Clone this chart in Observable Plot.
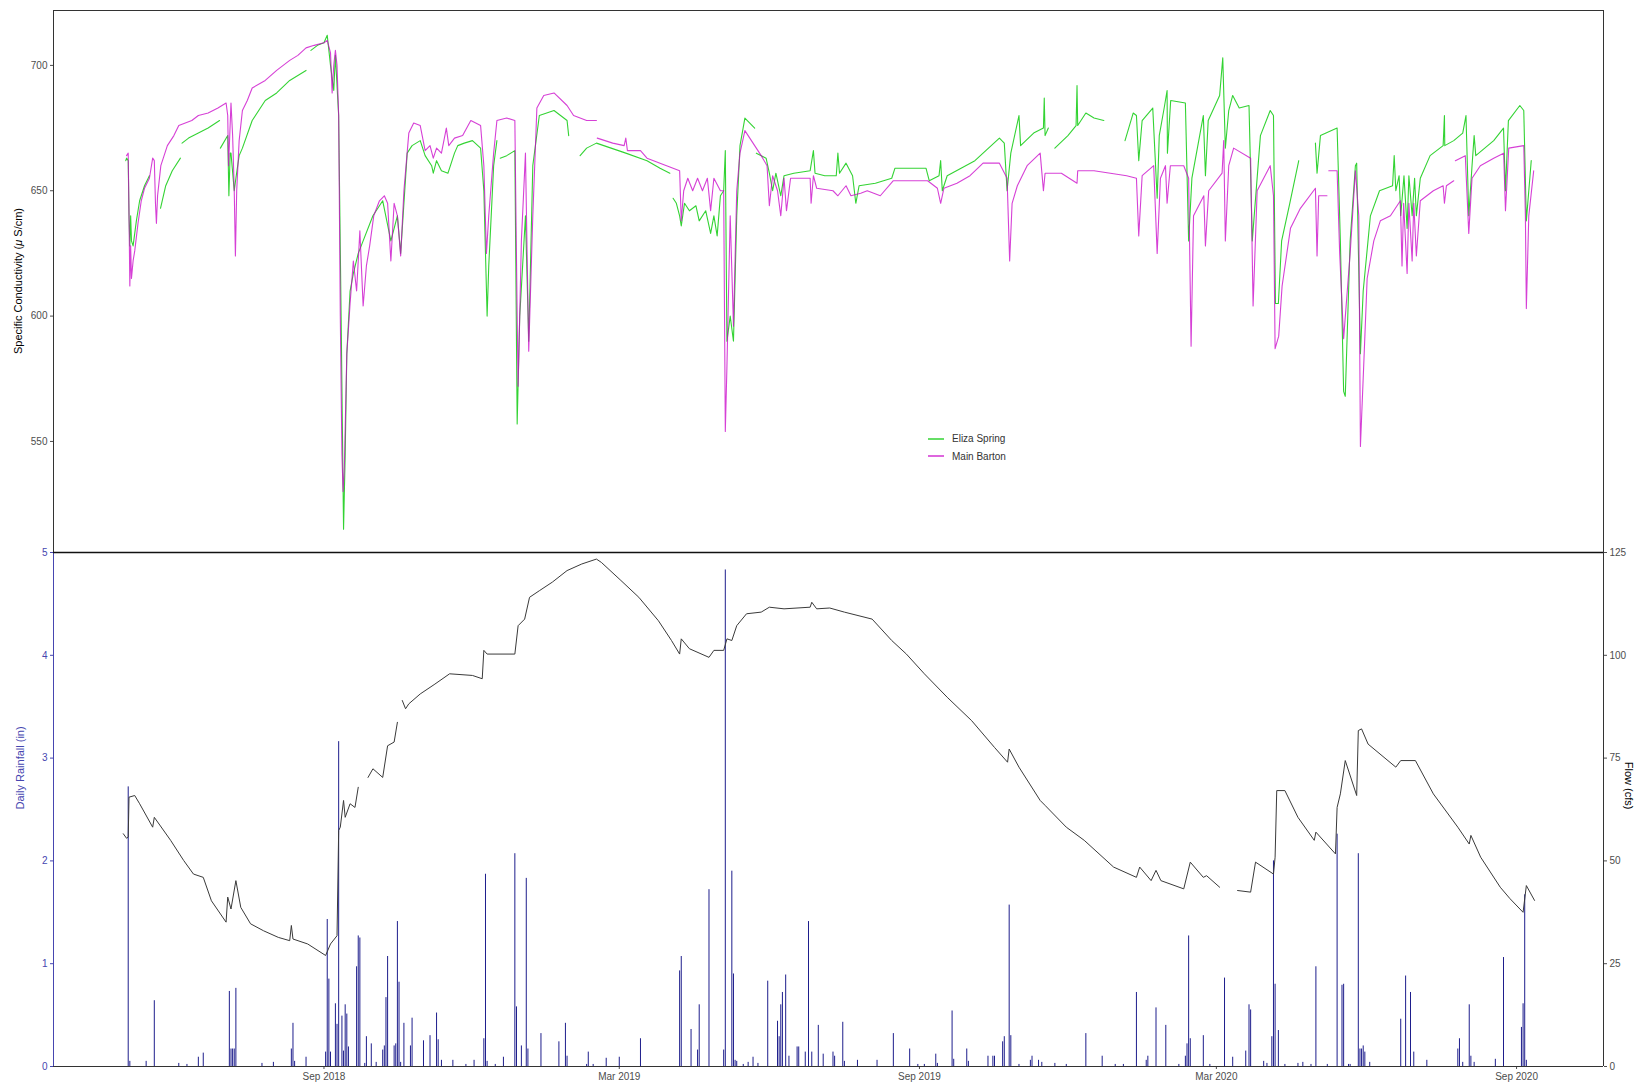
<!DOCTYPE html>
<html>
<head>
<meta charset="utf-8">
<script src="https://cdn.jsdelivr.net/npm/d3@7"></script>
<script src="https://cdn.jsdelivr.net/npm/@observablehq/plot@0.6"></script>
<style>
  html, body { margin: 0; padding: 0; background: #fff; }
  #wrap { position: relative; width: 1638px; height: 1084px; overflow: hidden; font-family: "Liberation Sans", Arial, sans-serif; }
  #top, #bottom { position: absolute; left: 0; }
  #top { top: 0; }
  #bottom { top: 552px; }
  .ytitle { position: absolute; white-space: nowrap; font-size: 11px; color: #000; transform-origin: center center; }
  .legend { position: absolute; left: 926px; top: 430px; font-size: 10px; color: #333; }
  .legend div { height: 17.5px; line-height: 17.5px; display: flex; align-items: center; }
  .legend svg { margin-right: 7px; }
</style>
</head>
<body>
<div id="wrap">
  <div id="top"></div>
  <div id="bottom"></div>
  <div class="ytitle" id="condTitle">Specific Conductivity (<i>μ</i> S/cm)</div>
  <div class="legend">
    <div><svg width="19" height="4"><line x1="2" y1="2" x2="18" y2="2" stroke="#00c800" stroke-width="1.2"/></svg>Eliza Spring</div>
    <div><svg width="19" height="4"><line x1="2" y1="2" x2="18" y2="2" stroke="#c800c8" stroke-width="1.2"/></svg>Main Barton</div>
  </div>
</div>
<script>
// ---------------- DATA ----------------
const seriesNames = ["Eliza Spring", "Main Barton"];
const seriesColors = ["#00c800", "#c800c8"];

// Specific conductivity, Eliza Spring (µS/cm); null = gap in record
const elizaSpring = [
["2018-05-02T12:00",662],["2018-05-03",663],["2018-05-04",662],["2018-05-04T12:00",640],["2018-05-05",628],["2018-05-05T12:00",640],
["2018-05-06",630],["2018-05-07",628],["2018-05-09",638],["2018-05-11",646],["2018-05-14",652],["2018-05-17",656],["2018-05-19",null],
["2018-05-23T19:00",643],["2018-05-27",652],["2018-05-31",658],["2018-06-05",663],["2018-06-05T12:00",null],
["2018-06-06",669],["2018-06-10",671],["2018-06-16",673],["2018-06-22",675],["2018-06-29",678],["2018-06-29T06:00",null],
["2018-06-29T12:00",667],["2018-07-04",672],["2018-07-04T17:00",648],["2018-07-05T12:00",665],["2018-07-06",665],["2018-07-08",650],
["2018-07-09",655],["2018-07-11",664],["2018-07-13",667],["2018-07-19",678],["2018-07-27",686],["2018-08-03",689],["2018-08-11",694],
["2018-08-16",696],["2018-08-21",698],["2018-08-22",null],
["2018-08-24",706],["2018-08-28",708],["2018-09-01",709],["2018-09-03",712],["2018-09-05",700],["2018-09-07",690],["2018-09-08",704],
["2018-09-10",680],["2018-09-11T12:00",600],["2018-09-13",515],["2018-09-14",545],["2018-09-15",585],["2018-09-17",610],["2018-09-19",617],
["2018-09-22",625],["2018-09-25",630],["2018-10-01",640],["2018-10-07",646],["2018-10-12",630],["2018-10-16",640],["2018-10-18",625],
["2018-10-22",665],["2018-10-25",668],["2018-10-30",670],["2018-11-02",664],["2018-11-06",660],["2018-11-07",657],["2018-11-09",662],
["2018-11-12",658],["2018-11-16",657],["2018-11-20",665],["2018-11-22",668],["2018-11-26",669],["2018-12-01",670],["2018-12-06",667],
["2018-12-08",650],["2018-12-10",600],["2018-12-11",620],["2018-12-14",660],["2018-12-16",670],["2018-12-17",null],
["2018-12-18",663],["2018-12-22",664],["2018-12-27",666],["2018-12-28T10:00",557],["2018-12-30",600],["2019-01-02T12:00",640],
["2019-01-04T12:00",590],["2019-01-07",660],["2019-01-11",680],["2019-01-20",682],["2019-01-28",678],["2019-01-29",672],["2019-02-01",null],
["2019-02-05",664],["2019-02-09",667],["2019-02-15",669],["2019-02-24",667],["2019-03-05",665],["2019-03-18",662],["2019-03-26",659],
["2019-04-01",657],["2019-04-02",null],
["2019-04-03",647],["2019-04-05",645],["2019-04-07",640],["2019-04-08",636],["2019-04-10",645],["2019-04-13",642],["2019-04-17",644],
["2019-04-19",638],["2019-04-23",642],["2019-04-26",633],["2019-04-28",640],["2019-04-30",632],["2019-05-02",648],["2019-05-04",650],
["2019-05-05",666],["2019-05-06",590],["2019-05-08",600],["2019-05-10",590],["2019-05-12",640],["2019-05-14",668],["2019-05-17",679],
["2019-05-20",677],["2019-05-23",675],["2019-05-23T12:00",null],
["2019-05-24",665],["2019-05-30",663],["2019-06-01",657],["2019-06-03",650],["2019-06-05",657],["2019-06-08",648],["2019-06-10",656],
["2019-06-16",657],["2019-06-26",658],["2019-06-28",666],["2019-06-29",657],["2019-07-05",656],["2019-07-12",656],["2019-07-13",665],
["2019-07-14",657],["2019-07-18",661],["2019-07-22",656],["2019-07-24",645],["2019-07-26",652],["2019-08-05",653],["2019-08-15",655],
["2019-08-17",659],["2019-09-05",659],["2019-09-07",654],["2019-09-13",656],["2019-09-14",662],["2019-09-15",650],["2019-09-18",656],
["2019-10-05",662],["2019-10-10",665],["2019-10-20",671],["2019-10-23",669],["2019-10-24T17:00",650],["2019-10-27",665],["2019-11-01",680],
["2019-11-02",668],["2019-11-10",673],["2019-11-16",675],["2019-11-16T12:00",687],["2019-11-17",672],["2019-11-19",675],["2019-11-21",null],
["2019-11-23",667],["2019-12-01",672],["2019-12-06",676],["2019-12-06T14:00",692],["2019-12-07",676],["2019-12-12",681],["2019-12-17",679],
["2019-12-23",678],["2019-12-24",null],
["2020-01-05",670],["2020-01-10",681],["2020-01-12",680],["2020-01-13T10:00",662],["2020-01-15T12:00",678],["2020-01-22",683],
["2020-01-24T17:00",647],["2020-01-26",672],["2020-01-29",683],["2020-01-30T19:00",690],["2020-01-31",665],["2020-02-02",686],
["2020-02-11",685],["2020-02-13",630],["2020-02-15",655],["2020-02-22",680],["2020-02-23T07:00",656],["2020-02-25",678],["2020-03-03",688],
["2020-03-04T22:00",703],["2020-03-06T12:00",667],["2020-03-08T14:00",682],["2020-03-11",688],["2020-03-15",683],["2020-03-21",684],
["2020-03-23",630],["2020-03-28",672],["2020-04-03",682],["2020-04-05",680],["2020-04-06T05:00",605],["2020-04-08",605],["2020-04-10",630],
["2020-04-15",645],["2020-04-20T12:00",662],["2020-04-21",null],
["2020-04-30T17:00",669],["2020-05-01T17:00",657],["2020-05-03T19:00",672],["2020-05-14",675],["2020-05-16",630],["2020-05-18",570],
["2020-05-19",568],["2020-05-22",630],["2020-05-25T05:00",660],["2020-05-26",661],["2020-05-28T07:00",585],["2020-05-30",610],
["2020-06-03T10:00",640],["2020-06-09",650],["2020-06-17",652],["2020-06-18",664],["2020-06-19",650],["2020-06-21",656],["2020-06-22",640],
["2020-06-24",656],["2020-06-25T22:00",635],["2020-06-27",656],["2020-06-29",640],["2020-06-30T12:00",655],["2020-07-01T14:00",640],
["2020-07-04",655],["2020-07-10",664],["2020-07-18",668],["2020-07-18T19:00",680],["2020-07-19",668],["2020-07-24T12:00",670],
["2020-07-30",673],["2020-08-01",680],["2020-08-02T17:00",640],["2020-08-04T17:00",660],["2020-08-06",672],["2020-08-07",664],
["2020-08-18",670],["2020-08-24",675],["2020-08-25T05:00",650],["2020-08-27",678],["2020-09-03",684],["2020-09-05T10:00",682],
["2020-09-07",638],["2020-09-08T12:00",650],["2020-09-10",662]
];

// Specific conductivity, Main Barton (µS/cm); null = gap in record
const mainBarton = [
["2018-05-03",664],["2018-05-04",665],["2018-05-04T12:00",640],["2018-05-05",612],["2018-05-05T12:00",628],["2018-05-06",615],
["2018-05-07",622],["2018-05-08",626],["2018-05-10",637],["2018-05-12",646],["2018-05-14",651],["2018-05-17",655],["2018-05-19",663],
["2018-05-20",662],["2018-05-20T17:00",645],["2018-05-21T07:00",637],["2018-05-22",648],["2018-05-24",660],["2018-05-28",668],
["2018-06-01",672],["2018-06-04",676],["2018-06-12",678],["2018-06-16",680],["2018-06-22",681],["2018-06-28",683],["2018-07-03",685],
["2018-07-04",680],["2018-07-04T12:00",660],["2018-07-05",668],["2018-07-06",685],["2018-07-07",672],["2018-07-08",650],
["2018-07-08T17:00",624],["2018-07-09T12:00",650],["2018-07-11",670],["2018-07-13",682],["2018-07-16",686],["2018-07-19",691],
["2018-07-27",694],["2018-08-03",698],["2018-08-11",702],["2018-08-16",704],["2018-08-21",707],["2018-08-26",708],["2018-09-01",709],
["2018-09-03",710],["2018-09-05",705],["2018-09-06",689],["2018-09-07",700],["2018-09-08",706],["2018-09-09",700],["2018-09-10",680],
["2018-09-11",600],["2018-09-12",545],["2018-09-12T17:00",530],["2018-09-13T12:00",540],["2018-09-15",585],["2018-09-17",605],
["2018-09-19",622],["2018-09-21",610],["2018-09-23",634],["2018-09-25",604],["2018-09-27",620],["2018-09-29",628],["2018-10-01T12:00",640],
["2018-10-05",646],["2018-10-08",648],["2018-10-10",645],["2018-10-12",622],["2018-10-14",645],["2018-10-16",640],["2018-10-18",624],
["2018-10-20",650],["2018-10-23",673],["2018-10-26",677],["2018-10-30",676],["2018-11-02",666],["2018-11-05",668],["2018-11-07",663],
["2018-11-09",667],["2018-11-12",665],["2018-11-15",675],["2018-11-16T12:00",668],["2018-11-20",671],["2018-11-25",672],["2018-11-30",678],
["2018-12-06",676],["2018-12-08",660],["2018-12-09T14:00",625],["2018-12-11",640],["2018-12-14",665],["2018-12-16",678],["2018-12-22",679],
["2018-12-27",678],["2018-12-28T10:00",600],["2018-12-29",572],["2018-12-31",630],["2019-01-02T12:00",665],["2019-01-04T12:00",586],
["2019-01-07",640],["2019-01-09T12:00",683],["2019-01-13T17:00",688],["2019-01-20",689],["2019-01-28",684],["2019-02-01",680],
["2019-02-09",678],["2019-02-15",678],["2019-02-15T06:00",null],
["2019-02-15T12:00",671],["2019-02-25",669],["2019-03-04",668],["2019-03-05",671],["2019-03-06",666],["2019-03-14",666],["2019-03-18",663],
["2019-03-30",660],["2019-04-07",658],["2019-04-08",638],["2019-04-09T12:00",650],["2019-04-12",655],["2019-04-15",650],["2019-04-18",655],
["2019-04-21",650],["2019-04-24",655],["2019-04-26",642],["2019-04-28",655],["2019-05-02",650],["2019-05-04",650],["2019-05-05",554],
["2019-05-06",580],["2019-05-08",640],["2019-05-10",596],["2019-05-12",650],["2019-05-14",665],["2019-05-17",674],["2019-05-22",669],
["2019-05-27",664],["2019-05-30T14:00",660],["2019-06-01",644],["2019-06-03",656],["2019-06-06",650],["2019-06-08",640],["2019-06-10",655],
["2019-06-11T12:00",642],["2019-06-14",655],["2019-06-16",655],["2019-06-26",655],["2019-06-26T14:00",645],["2019-06-28",656],
["2019-06-30",651],["2019-07-10",650],["2019-07-13",648],["2019-07-18",652],["2019-07-21",648],["2019-07-27",649],["2019-07-31",650],
["2019-08-08",648],["2019-08-16",654],["2019-08-27",654],["2019-09-06",654],["2019-09-12",651],["2019-09-14",645],["2019-09-16",651],
["2019-09-24",653],["2019-10-02",656],["2019-10-10",661],["2019-10-20",661],["2019-10-24T17:00",655],["2019-10-26T07:00",622],
["2019-10-27T19:00",645],["2019-10-31",652],["2019-11-06",660],["2019-11-14",665],["2019-11-16",650],["2019-11-17",657],["2019-11-27",657],
["2019-12-06T14:00",653],["2019-12-07",658],["2019-12-17",658],["2019-12-27",657],["2020-01-06",656],["2020-01-12",655],
["2020-01-13T10:00",632],["2020-01-15T12:00",656],["2020-01-22T14:00",660],["2020-01-24T17:00",625],["2020-01-26T17:00",655],
["2020-01-29T19:00",660],["2020-01-30T19:00",645],["2020-02-01T19:00",660],["2020-02-10",660],["2020-02-13",655],["2020-02-14T12:00",588],
["2020-02-16",640],["2020-02-22T07:00",648],["2020-02-23T07:00",628],["2020-02-25T07:00",650],["2020-03-04T12:00",657],
["2020-03-05T12:00",670],["2020-03-06T12:00",630],["2020-03-08T14:00",660],["2020-03-11T14:00",667],["2020-03-22",663],
["2020-03-23T12:00",604],["2020-03-26",650],["2020-04-03",660],["2020-04-05",648],["2020-04-06",587],["2020-04-08T05:00",592],
["2020-04-10T07:00",612],["2020-04-15T10:00",635],["2020-04-21T12:00",643],["2020-04-30T17:00",651],["2020-05-01T17:00",624],
["2020-05-02T17:00",648],["2020-05-07T19:00",648],["2020-05-08T06:00",null],
["2020-05-08T22:00",658],["2020-05-14",658],["2020-05-15T14:00",625],["2020-05-18",591],["2020-05-22",625],["2020-05-25T05:00",658],
["2020-05-27T07:00",640],["2020-05-28T07:00",548],["2020-05-30T07:00",580],["2020-06-01T10:00",615],["2020-06-05T12:00",630],
["2020-06-09T12:00",638],["2020-06-15T17:00",640],["2020-06-21T19:00",646],["2020-06-22T19:00",620],["2020-06-23T19:00",645],
["2020-06-25T22:00",617],["2020-06-27",645],["2020-06-29",622],["2020-06-30",645],["2020-07-01T14:00",624],["2020-07-04",646],
["2020-07-12",650],["2020-07-18",652],["2020-07-18T19:00",645],["2020-07-20",652],["2020-07-24T12:00",654],["2020-07-25",null],
["2020-07-25T12:00",662],["2020-07-31T14:00",664],["2020-08-02T17:00",633],["2020-08-04T17:00",655],["2020-08-09T19:00",660],
["2020-08-18",663],["2020-08-24T02:00",665],["2020-08-25T05:00",642],["2020-08-27T05:00",667],["2020-09-05T10:00",668],
["2020-09-06T10:00",640],["2020-09-07",603],["2020-09-08T12:00",640],["2020-09-11T12:00",658]
];

// Flow (cfs); null = gap in record
const flowCfs = [
["2018-05-01",56.6],["2018-05-03",55.5],["2018-05-04",55.8],["2018-05-04T12:00",65.5],["2018-05-08",65.9],["2018-05-11",63.9],
["2018-05-19",58.2],["2018-05-20",60.6],["2018-05-30",55],["2018-06-07",50.1],["2018-06-13",46.8],["2018-06-19",46],["2018-06-24",40.3],
["2018-07-03",35.1],["2018-07-04",41.2],["2018-07-06",38.3],["2018-07-09",45.2],["2018-07-12",38.7],["2018-07-18",34.7],["2018-07-26",33],
["2018-08-04",31.4],["2018-08-11",30.6],["2018-08-12",34.3],["2018-08-13",31],["2018-08-22",29.8],["2018-09-02",27],["2018-09-05",29.8],
["2018-09-09",31.8],["2018-09-10",57.4],["2018-09-11",58.2],["2018-09-13",64.7],["2018-09-14",60.6],["2018-09-17",63.9],["2018-09-20",63],
["2018-09-22",67.9],["2018-09-25",null],
["2018-09-28",70.3],["2018-10-01",72.4],["2018-10-07",70.3],["2018-10-10",78],["2018-10-14",78.9],["2018-10-16",83.7],["2018-10-17",null],
["2018-10-19",89],["2018-10-21",87],["2018-10-23",88.2],["2018-10-30",90.6],["2018-11-08",93],["2018-11-17",95.5],["2018-12-01",95.1],
["2018-12-07",94.3],["2018-12-08",101.2],["2018-12-10",100.3],["2018-12-27",100.3],["2018-12-29",107.2],["2019-01-02",108.8],
["2019-01-05",114.1],["2019-01-11",115.7],["2019-01-19",117.8],["2019-01-28",120.6],["2019-02-06",122.2],["2019-02-15",123.4],
["2019-02-18",122.6],["2019-03-02",118.2],["2019-03-13",114.1],["2019-03-25",108.4],["2019-04-02",103.6],["2019-04-07",100.3],
["2019-04-08",104],["2019-04-13",101.6],["2019-04-25",99.5],["2019-04-28",101.2],["2019-05-04",101.2],["2019-05-06",104],
["2019-05-09",103.6],["2019-05-12",107.2],["2019-05-18",110.1],["2019-05-27",110.5],["2019-06-01",111.7],["2019-06-10",111.3],
["2019-06-26",111.7],["2019-06-27",112.9],["2019-06-30",111.3],["2019-07-08",111.5],["2019-07-17",110.5],["2019-08-03",108.8],
["2019-08-15",103.6],["2019-08-24",100.3],["2019-09-04",95.5],["2019-09-18",89.8],["2019-10-03",84.1],["2019-10-17",77.6],
["2019-10-25",74],["2019-10-26",77.2],["2019-11-01",72.8],["2019-11-14",64.7],["2019-11-17",63.5],["2019-11-30",58.2],["2019-12-11",55],
["2019-12-29",48.5],["2020-01-12",46],["2020-01-14",48.5],["2020-01-21",45.2],["2020-01-24",47.7],["2020-01-27",45.2],["2020-02-10",43.2],
["2020-02-14",49.7],["2020-02-22",46],["2020-02-24",46.4],["2020-03-03",43.6],["2020-03-08",null],
["2020-03-14",42.8],["2020-03-22",42.4],["2020-03-25",49.7],["2020-04-05",46.8],["2020-04-06",50.9],["2020-04-07",67.1],
["2020-04-12",67.1],["2020-04-20",60.6],["2020-04-30",55],["2020-05-01",57],["2020-05-13",51.7],["2020-05-14",63],["2020-05-16",66.3],
["2020-05-19",74.4],["2020-05-26",65.9],["2020-05-27",81.7],["2020-05-29",82.1],["2020-06-02",78.4],["2020-06-19",72.8],
["2020-06-22",74.4],["2020-07-01",74.4],["2020-07-12",66.3],["2020-07-27",58.2],["2020-08-03",54.1],["2020-08-04",56.2],
["2020-08-10",50.9],["2020-08-22",43.6],["2020-08-28",40.8],["2020-09-05",37.5],["2020-09-07",44],["2020-09-12",40.4]
];

// Daily rainfall (in)
const dailyRain = [
["2018-05-04",2.72],["2018-05-05",0.05],["2018-05-15",0.05],["2018-05-20",0.64],["2018-06-04",0.03],["2018-06-09",0.02],
["2018-06-16",0.09],["2018-06-19",0.13],["2018-07-05",0.73],["2018-07-06",0.17],["2018-07-07",0.17],["2018-07-08",0.17],["2018-07-09",0.76],
["2018-07-25",0.03],["2018-08-01",0.04],["2018-08-12",0.17],["2018-08-13",0.42],["2018-08-14",0.05],["2018-08-21",0.09],
["2018-09-02",0.14],["2018-09-03",1.43],["2018-09-04",0.85],["2018-09-05",0.14],["2018-09-08",0.61],["2018-09-09",0.41],["2018-09-10",3.16],
["2018-09-12",0.49],["2018-09-13",0.15],["2018-09-14",0.6],["2018-09-15",0.51],["2018-09-16",0.19],["2018-09-21",0.97],["2018-09-22",1.27],
["2018-09-23",1.25],["2018-09-26",0.03],["2018-09-27",0.29],["2018-09-30",0.22],["2018-10-03",0.04],["2018-10-07",0.16],["2018-10-08",0.2],
["2018-10-09",0.67],["2018-10-10",1.07],["2018-10-14",0.2],["2018-10-15",0.22],["2018-10-16",1.41],["2018-10-17",0.82],["2018-10-18",0.04],
["2018-10-20",0.42],["2018-10-24",0.2],["2018-10-25",0.47],["2018-11-01",0.25],["2018-11-05",0.3],["2018-11-09",0.52],["2018-11-10",0.26],
["2018-11-12",0.06],["2018-11-19",0.06],["2018-11-27",0.02],["2018-12-02",0.06],["2018-12-08",0.27],["2018-12-09",1.87],["2018-12-10",0.05],
["2018-12-15",0.02],["2018-12-20",0.09],["2018-12-27",2.07],["2018-12-28",0.58],["2018-12-31",0.2],["2019-01-03",1.83],["2019-01-04",0.17],
["2019-01-12",0.32],["2019-01-23",0.24],["2019-01-27",0.42],["2019-01-28",0.1],["2019-02-09",0.02],["2019-02-10",0.14],["2019-02-13",0.02],
["2019-02-21",0.08],["2019-03-01",0.09],["2019-03-14",0.27],["2019-04-07",0.93],["2019-04-08",1.07],["2019-04-14",0.36],["2019-04-18",0.16],
["2019-04-19",0.6],["2019-04-25",1.72],["2019-05-04",0.16],["2019-05-05",4.83],["2019-05-09",1.9],["2019-05-10",0.9],["2019-05-11",0.06],
["2019-05-12",0.05],["2019-05-16",0.02],["2019-05-19",0.04],["2019-05-22",0.09],["2019-05-25",0.03],["2019-05-31",0.83],["2019-06-06",0.44],
["2019-06-07",0.29],["2019-06-08",0.6],["2019-06-09",0.72],["2019-06-11",0.89],["2019-06-13",0.1],["2019-06-18",0.19],["2019-06-19",0.19],
["2019-06-23",0.14],["2019-06-25",1.41],["2019-06-27",0.14],["2019-07-01",0.4],["2019-07-04",0.12],["2019-07-10",0.14],["2019-07-11",0.1],
["2019-07-16",0.43],["2019-07-17",0.05],["2019-07-25",0.06],["2019-08-06",0.06],["2019-08-16",0.32],["2019-08-26",0.17],["2019-08-31",0.02],
["2019-09-04",0.02],["2019-09-11",0.12],["2019-09-12",0.03],["2019-09-21",0.54],["2019-09-22",0.07],["2019-09-30",0.17],["2019-10-01",0.05],
["2019-10-13",0.1],["2019-10-16",0.1],["2019-10-17",0.1],["2019-10-22",0.24],["2019-10-23",0.29],["2019-10-26",1.57],["2019-10-27",0.3],
["2019-11-01",0.02],["2019-11-08",0.06],["2019-11-09",0.1],["2019-11-13",0.06],["2019-11-15",0.04],["2019-11-23",0.03],["2019-11-30",0.02],
["2019-12-12",0.32],["2019-12-22",0.1],["2019-12-30",0.02],["2020-01-04",0.02],["2020-01-12",0.72],["2020-01-18",0.06],["2020-01-19",0.1],
["2020-01-24",0.57],["2020-01-30",0.4],["2020-02-07",0.02],["2020-02-11",0.1],["2020-02-12",0.22],["2020-02-13",1.27],["2020-02-14",0.27],
["2020-02-22",0.3],["2020-02-26",0.02],["2020-03-06",0.86],["2020-03-11",0.09],["2020-03-19",0.15],["2020-03-21",0.6],["2020-03-22",0.55],
["2020-03-30",0.05],["2020-04-01",0.03],["2020-04-04",0.29],["2020-04-05",2.0],["2020-04-06",0.8],["2020-04-08",0.35],["2020-04-12",0.02],
["2020-04-20",0.03],["2020-04-23",0.04],["2020-04-28",0.02],["2020-05-01",0.97],["2020-05-08",0.02],["2020-05-14",2.26],["2020-05-17",0.79],
["2020-05-18",0.8],["2020-05-21",0.02],["2020-05-22",0.02],["2020-05-27",2.07],["2020-05-28",0.17],["2020-05-29",0.17],["2020-05-30",0.2],
["2020-05-31",0.14],["2020-06-03",0.04],["2020-06-22",0.46],["2020-06-25",0.88],["2020-06-28",0.72],["2020-06-30",0.14],["2020-07-08",0.06],
["2020-07-27",0.17],["2020-07-28",0.27],["2020-07-30",0.04],["2020-08-03",0.6],["2020-08-04",0.1],["2020-08-06",0.04],["2020-08-19",0.07],
["2020-08-24",1.06],["2020-09-04",0.38],["2020-09-05",0.61],["2020-09-06",1.67],["2020-09-07",0.06]
];

const xTicks = ["2018-09-01", "2019-03-01", "2019-09-01", "2020-03-01", "2020-09-01"];
const condTicks = [550, 600, 650, 700];
const rainTicks = [0, 1, 2, 3, 4, 5];
const flowPerRainUnit = 25; // right axis: 125 cfs at 5 in

// ---------------- BUILD ----------------
const toDate = s => new Date(s.length > 10 ? s + "Z" : s + "T00:00:00Z");
const asRows = (arr, series) => arr.map(([d, v]) => ({date: toDate(d), value: v == null ? NaN : v, series}));

const condRows = [...asRows(elizaSpring, seriesNames[0]), ...asRows(mainBarton, seriesNames[1])];
const flowRows = asRows(flowCfs, "Flow");
const rainRows = asRows(dailyRain, "Rain");

const xDomain = [new Date("2018-03-19T05:00:00Z"), new Date("2020-10-24T07:00:00Z")];
const font = '"Liberation Sans", Arial, sans-serif';
const W = 1638, ML = 53, MR = 35;
const rainColor = "#4646b0";

const topPlot = Plot.plot({
  width: W, height: 553,
  marginLeft: ML, marginRight: MR, marginTop: 10, marginBottom: 1,
  style: {fontFamily: font, fontSize: "10px", background: "transparent"},
  x: {type: "utc", domain: xDomain, axis: null},
  y: {domain: [505.7, 721.9], axis: null},
  color: {domain: seriesNames, range: seriesColors},
  marks: [
    Plot.axisY({ticks: condTicks, tickSize: 3, tickPadding: 3, color: "#4d4d4d", fontSize: 10, label: null}),
    Plot.line(condRows.filter(d => d.series === seriesNames[0]), {x: "date", y: "value", stroke: "series", strokeWidth: 1.1, strokeOpacity: 0.8}),
    Plot.line(condRows.filter(d => d.series === seriesNames[1]), {x: "date", y: "value", stroke: "series", strokeWidth: 1.1, strokeOpacity: 0.75}),
    Plot.frame({stroke: "#333", strokeWidth: 1})
  ]
});
document.getElementById("top").appendChild(topPlot);

const bottomPlot = Plot.plot({
  width: W, height: 532,
  marginLeft: ML, marginRight: MR, marginTop: 0, marginBottom: 18,
  style: {fontFamily: font, fontSize: "10px", background: "transparent", overflow: "visible"},
  x: {type: "utc", domain: xDomain, axis: null},
  y: {domain: [0, 5], axis: null},
  marks: [
    Plot.ruleX(rainRows, {x: "date", y1: 0, y2: "value", stroke: "#1e1e8c", strokeWidth: 1}),
    Plot.line(flowRows, {x: "date", y: d => d.value / flowPerRainUnit, stroke: "#3a3a3a", strokeWidth: 1}),
    Plot.axisY({anchor: "left", ticks: rainTicks, tickFormat: d => String(d), tickSize: 3, tickPadding: 3, color: rainColor, fontSize: 10, label: null}),
    Plot.axisY({anchor: "right", ticks: rainTicks, tickFormat: d => String(d * flowPerRainUnit), tickSize: 3, tickPadding: 3, color: "#4d4d4d", fontSize: 10, label: null}),
    Plot.axisX({ticks: xTicks.map(toDate), tickFormat: d3.utcFormat("%b %Y"), tickSize: 3, tickPadding: 3, color: "#4d4d4d", fontSize: 10, label: null}),
    Plot.ruleX([xDomain[0]], {stroke: rainColor, strokeWidth: 1}),
    Plot.ruleX([xDomain[1]], {stroke: "#333", strokeWidth: 1}),
    Plot.ruleY([0], {stroke: "#333", strokeWidth: 1}),
    Plot.ruleY([5], {stroke: "#111", strokeWidth: 1.3}),
    Plot.text(["Daily Rainfall (in)"], {frameAnchor: "left", dx: -33, rotate: -90, fill: rainColor, fontSize: 11}),
    Plot.text(["Flow (cfs)"], {frameAnchor: "right", dx: 25, rotate: 90, fill: "#000", fontSize: 11})
  ]
});
document.getElementById("bottom").appendChild(bottomPlot);

// conductivity axis title (HTML to allow italic µ)
const t = document.getElementById("condTitle");
const tw = t.offsetWidth, th = t.offsetHeight;
t.style.left = (18 - tw / 2) + "px";
t.style.top = (281 - th / 2) + "px";
t.style.transform = "rotate(-90deg)";
</script>
</body>
</html>
